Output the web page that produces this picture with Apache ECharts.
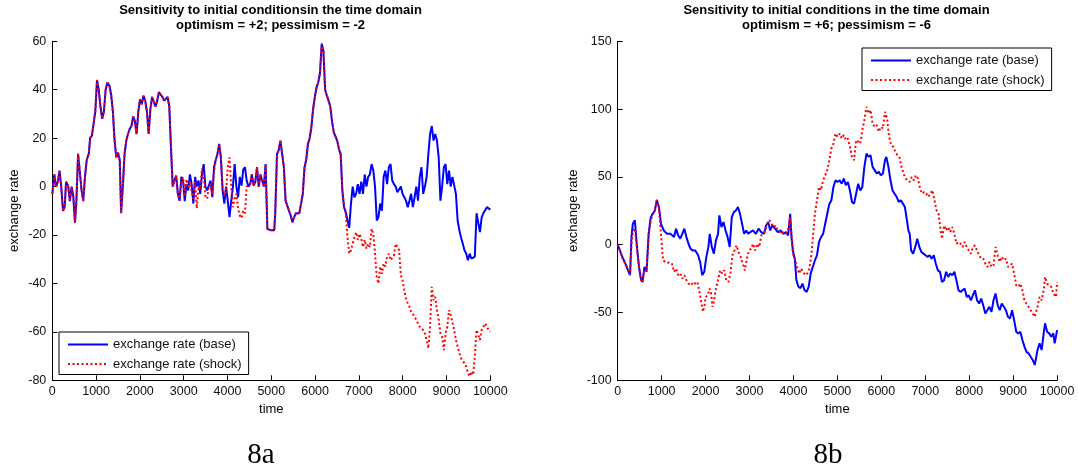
<!DOCTYPE html>
<html>
<head>
<meta charset="utf-8">
<script src="https://cdn.jsdelivr.net/npm/echarts@6/dist/echarts.min.js"></script>
<style>
html,body{margin:0;padding:0;background:#fff;}
#chart{width:1078px;height:473px;}
</style>
</head>
<body>
<div id="chart"></div>
<script>
// ---------------- DATA ----------------
const seriesNames = ['exchange rate (base)', 'exchange rate (shock)'];
const xTicks = [0,1000,2000,3000,4000,5000,6000,7000,8000,9000,10000];

// Panel 8a : time samples (shared by both series)
const leftTime = [
0,47,86,126,165,204,244,283,314,361,
401,440,479,518,550,589,628,668,707,746,
786,833,864,903,943,982,1021,1060,1100,1139,
1178,1218,1257,1304,1343,1383,1422,1461,1500,1540,
1571,1610,1650,1689,1728,1767,1807,1846,1885,1925,
1964,2003,2042,2082,2121,2160,2200,2239,2278,2317,
2357,2396,2435,2474,2514,2553,2592,2632,2671,2710,
2749,2789,2828,2867,2907,2946,2985,3024,3064,3103,
3142,3181,3221,3260,3299,3339,3378,3417,3456,3496,
3535,3574,3613,3653,3692,3731,3771,3810,3849,3888,
3928,3967,4006,4046,4085,4124,4163,4203,4242,4281,
4321,4360,4399,4438,4478,4517,4556,4595,4635,4674,
4713,4753,4792,4831,4870,4910,4949,4988,5027,5067,
5090,5130,5169,5208,5247,5287,5326,5365,5405,5444,
5483,5522,5562,5601,5640,5680,5719,5758,5797,5837,
5876,5915,5954,5994,6033,6072,6112,6151,6190,6229,
6269,6308,6347,6386,6426,6465,6504,6544,6583,6622,
6661,6701,6740,6779,6819,6858,6897,6936,6975,7015,
7054,7093,7133,7172,7211,7250,7290,7329,7368,7408,
7447,7486,7526,7565,7604,7643,7683,7722,7761,7800,
7840,7879,7918,7958,7997,8036,8075,8115,8154,8193,
8232,8272,8311,8350,8389,8429,8468,8507,8547,8586,
8625,8664,8704,8743,8782,8822,8861,8900,8940,8979,
9018,9058,9097,9136,9175,9215,9254,9293,9332,9372,
9411,9450,9489,9529,9568,9607,9646,9686,9725,9764,
9804,9843,9882,9921,9960,10000];

const leftBase = [
-3,5,0,2,6.6,0,-10,-8.5,2,0.4,
-6,0,-4,-15,-6,13.5,13.5,-1.6,-6,4,
11,13.5,20,21,26,31,44,40,33,28,
31,40,43,41.7,38,31,19,12,14,11,
-11,0,13.5,19,21.7,23.8,25,29,27,21.7,
31,36,34,37.5,35.5,31,21.7,32,37,35,
33,35.5,39,38,37,35.5,35,37,33,16,
0,2.5,4.5,-3,-5.8,4,2.5,-6,1,-1.6,
5,1,-7,4,0,2.5,-3,5,9.3,0,
-1.6,-2.3,2.5,-4.4,8,11,13.5,17.6,12,-1.6,
-7,0,-5.8,-12.6,-6,0,9.3,0,-4.4,4,
0.4,7,8,2.5,0,1,5,0.4,2,8,
0,5,2.5,0,9.3,-17.5,-17.5,-18,-18,-18,
-11,13.5,15,19,13.5,8,-5.8,-6,-10,-12,
-14.7,-12.6,-11,-10.6,-11,-10.6,-3,8,11,17.6,
20,24.5,32,37,41,43,47,59,56,40,
37.5,35.5,33,27,22.4,23,19,15.5,13.5,-1.6,
-8.5,-10.6,-14,-17,-7,0,-4.4,-3,1,-3,
2,-3,5,0,4,5,9.3,6.6,0,-14,
-12.6,-7,-10,4,6.6,1,8,9.3,2.5,1,
0,-2.3,-2.3,0,-3,-4.4,-5.8,-8.5,-5.8,-3,
-8.5,-4.4,0,-5.8,4,8,-3,0,4,13.5,
21.7,25,19,21.7,19,12,-5.8,0,8,9.3,
1,6.6,0,4,4,-3,-14,-18,-21,-23.6,
-26.3,-27.7,-30.4,-27.7,-29.7,-29.7,-29,-11,-11,-18.8,
-12.6,-11,-10.5,-8.5,-9,-9.5];

const leftShock = [
-3,5,0,2,6.6,0,-10,-8.5,2,0.4,
-6,0,-4,-15,-6,13.5,13.5,-1.6,-6,4,
11,13.5,20,21,26,31,44,40,33,28,
31,40,43,41.7,38,31,19,12,14,11,
-11,0,13.5,19,21.7,23.8,25,29,27,21.7,
31,36,34,37.5,35.5,31,21.7,32,37,35,
33,35.5,39,38,37,35.5,35,37,33,16,
0,2.5,4.5,-3,-5.8,2,4,-4,3,0,
2,-2,-5,2,-9,0,-1,7.5,4,-4,
-5,0,1,-3,6,11,13.5,17.6,12,0,
-4,-2,8,12,0,-8.5,-5,-3,-9,-12,
-13,-10,-11,0,0,1,5,0.4,2,8,
0,5,2.5,0,9.3,-17.5,-17.5,-18,-18,-18,
-11,13.5,15,19,13.5,8,-5.8,-6,-10,-12,
-14.7,-12.6,-11,-10.6,-11,-10.6,-3,8,11,17.6,
20,24.5,32,37,41,43,47,59,56,40,
37.5,35.5,33,27,22.4,23,19,15.5,13.5,-1.6,
-8.5,-11,-21,-27.7,-26.3,-23.6,-21,-18.8,-22,-19.5,
-21.5,-25,-22,-25.6,-23.6,-25,-17.4,-19.5,-27.7,-37.3,
-40,-33,-36,-31.8,-33,-29,-27.7,-30.4,-29.7,-28.4,
-23.6,-23,-26.3,-36.6,-38.7,-42.8,-46.2,-48.3,-49.6,-51.7,
-51,-53.7,-54.4,-56.5,-57.9,-57.2,-59.2,-60.6,-63.3,-66.8,
-57.9,-41.4,-46.9,-45.5,-51,-55,-60.6,-62,-67.5,-60.6,
-57.9,-51,-53,-53.7,-59.2,-63.3,-66,-68.8,-70.9,-71.6,
-73,-74.3,-77,-78.4,-76.4,-77.8,-70.2,-59.2,-58.5,-63.3,
-59.2,-57.9,-56.5,-57.9,-59.2,-60];

// Panel 8b : base series
const rightBaseTime = [
0,47,94,141,188,235,281,313,344,391,
438,485,532,563,610,657,704,751,797,844,
891,938,985,1048,1126,1204,1282,1329,1376,1423,
1470,1517,1564,1611,1658,1704,1767,1830,1876,1923,
1970,2017,2064,2095,2142,2189,2236,2283,2314,2361,
2408,2455,2502,2549,2596,2643,2690,2737,2783,2830,
2877,2924,2971,3018,3080,3143,3206,3268,3331,3378,
3425,3471,3518,3581,3643,3706,3769,3831,3878,3925,
3956,3987,4034,4066,4113,4159,4206,4253,4300,4347,
4394,4441,4488,4535,4582,4628,4675,4722,4769,4816,
4863,4910,4957,5004,5051,5098,5145,5192,5238,5285,
5332,5379,5426,5473,5520,5567,5614,5661,5708,5754,
5801,5848,5895,5942,5989,6036,6083,6114,6161,6208,
6255,6302,6349,6396,6443,6490,6536,6583,6615,6646,
6677,6724,6771,6818,6865,6912,6959,7005,7052,7099,
7146,7193,7240,7287,7334,7381,7428,7475,7521,7568,
7615,7662,7709,7756,7803,7850,7897,7944,7990,8038,
8084,8131,8178,8225,8272,8319,8366,8413,8460,8507,
8553,8600,8647,8694,8741,8788,8835,8882,8929,8976,
9022,9070,9116,9163,9210,9257,9304,9351,9398,9445,
9492,9523,9554,9601,9648,9695,9726,9773,9820,9867,
9914,9945,10000];
const rightBase = [
0,-4,-8,-11.5,-15,-19,-22.5,5.6,15.4,18,
-1.7,-16.4,-26,-27.5,-16.4,-20,8,20,23,25,
33,27.7,15.4,10.5,8,8,5.6,11.8,6.9,4.4,
8,11.8,5.6,0.7,-3,-4.2,-4.2,-7.8,-12.7,-22.5,
-20,-9,-1.7,8,-1.7,-6.6,3.2,8,21.6,13,
16.7,10.5,5.6,-1.7,20.3,24,25.2,27.7,22.8,15.4,
8,10.5,8,9.3,10.5,8,11.8,9.3,8,14.2,
16.7,10.5,14.2,11.8,9.3,10.5,8,9.3,6.9,22.8,
5.6,-4.2,-11.5,-26,-31,-32,-28.7,-33.6,-34.8,-31,
-21,-16.4,-11.5,-7.8,2,5.6,8,15.4,22.8,30,
32.8,42.6,47.5,46.3,47.5,45,48.8,43.8,46.3,40,
31.5,30.3,37.6,45,40,42.6,57.4,67.2,64.8,66,
57.4,55,52.5,53.7,51.2,52.5,62.3,64.8,57.4,47.5,
40,37.6,35.2,31.5,32.8,30.3,27.8,18,10.6,8,
-4.2,-6.6,-1.7,4.4,-1.7,-5.4,-6.6,-7.8,-9,-7.8,
-10.3,-7.8,-14,-18.9,-20,-27.5,-26.2,-20,-23.8,-21.3,
-22.5,-20,-26.2,-33.6,-34.8,-33.6,-32.4,-38.5,-37.3,-41,
-37.3,-33.6,-41,-43.4,-39.7,-44.6,-50.7,-48.3,-45.8,-49.5,
-41,-36,-44.6,-48.3,-43.4,-45.8,-48.3,-53.2,-54.4,-48.3,
-55.6,-64.2,-65.4,-64.2,-70.3,-75.2,-79,-80.1,-82.6,-85,
-88.7,-90,-77.7,-72.8,-77.7,-65.4,-58,-64.2,-65.4,-67.9,
-65.4,-72.8,-63];

// Panel 8b : shock series
const rightShockTime = [
0,47,94,141,188,235,281,313,344,391,
438,485,532,563,610,657,704,751,797,844,
891,938,985,1032,1079,1126,1188,1235,1282,1329,
1376,1423,1470,1517,1564,1611,1673,1720,1767,1814,
1861,1908,1939,1970,2002,2048,2095,2126,2158,2189,
2236,2283,2330,2377,2424,2471,2518,2564,2611,2658,
2705,2752,2799,2846,2893,2940,2987,3033,3080,3127,
3174,3221,3268,3315,3362,3409,3456,3502,3550,3596,
3643,3690,3737,3784,3831,3878,3925,3956,3988,4034,
4081,4128,4175,4222,4269,4316,4363,4410,4457,4488,
4535,4582,4628,4675,4722,4769,4816,4863,4910,4957,
5004,5051,5098,5145,5192,5239,5285,5332,5379,5426,
5473,5520,5567,5614,5661,5708,5755,5801,5848,5895,
5942,5989,6036,6083,6130,6177,6224,6271,6318,6365,
6411,6458,6505,6552,6599,6646,6693,6740,6787,6834,
6881,6927,6974,7021,7068,7115,7162,7209,7256,7302,
7349,7381,7428,7475,7521,7568,7615,7662,7709,7756,
7803,7850,7897,7944,7990,8038,8084,8131,8178,8225,
8272,8319,8366,8413,8460,8507,8553,8600,8647,8694,
8741,8788,8835,8882,8929,8976,9022,9070,9116,9163,
9210,9257,9304,9351,9398,9445,9492,9523,9554,9601,
9648,9695,9726,9773,9820,9867,9914,9976,10000];
const rightShock = [
0,-4,-9,-12,-15,-18,-22,0,10,12,
-2,-17,-26,-28,-18,-19,6,18,22,25,
33,27,8,-11.5,-12.7,-12.7,-14,-14,-20,-17.6,
-22.5,-21.3,-25,-22.5,-26.2,-28.7,-30,-27.5,-28.7,-27.5,
-34.8,-43.4,-49.5,-45.8,-38.5,-37.3,-32.4,-36,-45.8,-42,
-32.4,-26.2,-18.9,-21.3,-18.9,-26.2,-27.5,-21.3,-7.8,-4.2,
-0.5,-5.4,-9,-14,-18.9,-10.3,-4.2,-3,0.7,-4.2,
0.7,-1.7,6.9,8,10.5,15.4,18,15.4,13,14.2,
10.5,9.3,8,9.3,8,10.5,20.3,5.6,-6.6,-10.3,
-16.4,-21.3,-17.6,-20,-22.5,-21.3,-17.6,-6.6,10.5,22.8,
32.8,42.6,40.2,47.5,51.2,55,62.3,71,74.6,82,
79.6,82,78.3,80.8,77.1,78.3,72.2,64.8,62.3,77.1,
75.9,74.6,84.5,91.9,101.7,96.8,99.3,89.4,86.9,88.2,
83.3,86.9,85.7,98,93.1,79.6,73.4,72.2,68.5,66,
64.8,57.4,52.5,48.8,47.5,46.3,50,47.5,51.2,48.8,
41.4,37.7,38.9,37.7,35.2,37.7,40.2,32.8,25.4,22.9,
10.6,4.4,14.2,10.5,13,9.3,13,8,0.7,2,
0.7,-1.7,2,-1.7,-4.2,-6.6,-1.7,-0.5,-4.2,-7.8,
-10.3,-10.3,-14,-16.4,-12.7,-16.4,-15.2,-1.7,-7.8,-12.7,
-9,-11.5,-10.3,-16.4,-15.2,-14,-21.3,-30,-31,-28.7,
-33.6,-41,-43.4,-45.8,-48.3,-50.7,-53.2,-54.4,-45.8,-38.5,
-41,-33.6,-23.8,-28.7,-30,-31,-36,-38.5,-27.5];

// ---------------- CHART ----------------
function zip(t, v){
  if (t.length !== v.length) console.warn('length mismatch', t.length, v.length);
  const n = Math.min(t.length, v.length), out = [];
  for (let i = 0; i < n; i++) out.push([t[i], v[i]]);
  return out;
}

const FONT = '"Liberation Sans", Arial, Helvetica, sans-serif';
const BLUE = '#0000ff', RED = '#ff0000';

function xAxis(gi){
  return {
    type:'value', gridIndex:gi, min:xTicks[0], max:xTicks[xTicks.length-1],
    interval:xTicks[1]-xTicks[0],
    name:'time', nameLocation:'middle', nameGap:22,
    nameTextStyle:{color:'#000', fontSize:13, fontFamily:FONT},
    axisLine:{show:true, onZero:false, lineStyle:{color:'#000', width:1}},
    axisTick:{show:true, inside:true, length:5, lineStyle:{color:'#000'}},
    axisLabel:{color:'#111', fontSize:12.5, fontFamily:FONT, margin:5,
               formatter:function(v){ return String(v); }},
    splitLine:{show:false}
  };
}
function yAxis(gi, mn, mx, step, gap){
  return {
    type:'value', gridIndex:gi, min:mn, max:mx, interval:step,
    name:'exchange rate', nameLocation:'middle', nameGap:gap, nameRotate:90,
    nameTextStyle:{color:'#000', fontSize:13, fontFamily:FONT},
    axisLine:{show:true, onZero:false, lineStyle:{color:'#000', width:1}},
    axisTick:{show:true, inside:true, length:5, lineStyle:{color:'#000'}},
    axisLabel:{color:'#111', fontSize:12.5, fontFamily:FONT, margin:6,
               formatter:function(v){ return String(v); }},
    splitLine:{show:false}
  };
}
function lineSeries(name, data, gi, color, dotted){
  return {
    type:'line', name:name, xAxisIndex:gi, yAxisIndex:gi, data:data,
    symbol:'none', showSymbol:false, smooth:false, animation:false,
    lineStyle:{color:color, width:2, type: dotted ? [2,2.5] : 'solid'},
    itemStyle:{color:color}
  };
}
function legendAt(left, top){
  return {
    data:seriesNames, orient:'vertical', left:left, top:top,
    itemWidth:40, itemHeight:13, itemGap:6.5,
    padding:[6,7,4,8], borderColor:'#000', borderWidth:1, borderRadius:0,
    backgroundColor:'#fff', selectedMode:false,
    itemStyle:{opacity:0},
    textStyle:{color:'#111', fontSize:13, fontFamily:FONT}
  };
}

const chart = echarts.init(document.getElementById('chart'), null, {renderer:'canvas'});
chart.setOption({
  animation:false,
  backgroundColor:'#fff',
  grid:[
    {left:52.3, top:41.3, width:438, height:339},
    {left:617.7, top:41.3, width:439.4, height:339}
  ],
  xAxis:[xAxis(0), xAxis(1)],
  yAxis:[yAxis(0,-80,60,20,31), yAxis(1,-100,150,50,38)],
  legend:[legendAt(59,332), legendAt(862,48)],
  series:[
    lineSeries(seriesNames[0], zip(leftTime, leftBase), 0, BLUE, false),
    lineSeries(seriesNames[1], zip(leftTime, leftShock), 0, RED, true),
    lineSeries(seriesNames[0], zip(rightBaseTime, rightBase), 1, BLUE, false),
    lineSeries(seriesNames[1], zip(rightShockTime, rightShock), 1, RED, true)
  ],
  graphic:[
    {type:'text', x:270.5, y:2.5, style:{text:'Sensitivity to initial conditionsin the time domain\noptimism = +2; pessimism = -2', font:'bold 13px '+FONT, fill:'#000', align:'center', verticalAlign:'top', lineHeight:15.5}},
    {type:'text', x:836.5, y:2.5, style:{text:'Sensitivity to initial conditions in the time domain\noptimism = +6; pessimism = -6', font:'bold 13px '+FONT, fill:'#000', align:'center', verticalAlign:'top', lineHeight:15.5}},
    {type:'text', x:261, y:455, style:{text:'8a', font:'29px "Liberation Serif", "DejaVu Serif", serif', fill:'#000', align:'center', verticalAlign:'middle'}},
    {type:'text', x:828, y:455, style:{text:'8b', font:'29px "Liberation Serif", "DejaVu Serif", serif', fill:'#000', align:'center', verticalAlign:'middle'}}
  ]
});
</script>
</body>
</html>
